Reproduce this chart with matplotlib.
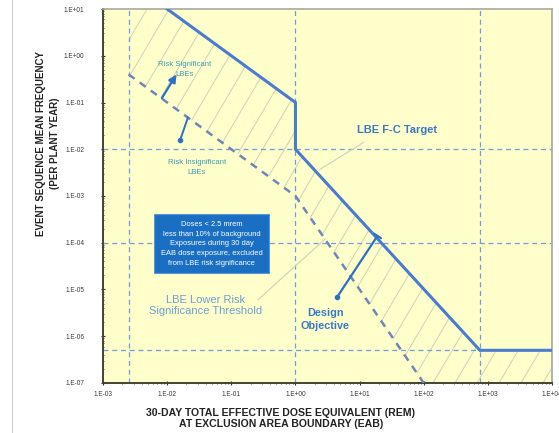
"""
Frequency-consequence target chart for licensing basis events (LBEs).
"""

import numpy as np
import matplotlib.pyplot as plt
from matplotlib.lines import Line2D
from matplotlib.collections import LineCollection
from matplotlib.ticker import LogLocator, FuncFormatter

# =========================================================
# Data
# =========================================================
# LBE F-C target (dose in rem, frequency per plant year)
target_dose = [1e-2, 1.0, 1.0, 750.0, 1e4]
target_freq = [1e1, 1e-1, 1e-2, 5e-7, 5e-7]

# LBE lower risk significance threshold
thresh_dose = [2.5e-3, 1.0, 100.0]
thresh_freq = [4e-1, 1e-3, 1e-7]

# reference grid lines
vlines_dose = [2.5e-3, 1.0, 750.0]
hlines_freq = [1e-2, 1e-4, 5e-7]

# arrows (tail, head)
sig_arrow = [(8.3e-3, 1.25e-1), (1.4e-2, 4.0e-1)]
insig_arrow = [(2.1e-2, 4.7e-2), (1.6e-2, 1.6e-2)]
design_arrow = [(4.5, 7.0e-6), (19.0, 1.4e-4)]

# leader lines
fc_leader = [(11.5, 1.4e-2), (2.4, 3.7e-3)]
lower_leader = [(0.26, 6.0e-6), (2.9, 1.2e-4)]

XLIM = (1e-3, 1e4)
YLIM = (1e-7, 1e1)

# =========================================================
# Style
# =========================================================
BG = "#FFFFCC"
BLUE = "#4a7bd0"
ARROW = "#2f6fc4"
DASH = "#6f86b8"
GRID = "#6f9fd6"
TEAL = "#3f9bb3"
HATCH = "#cfd1b6"

plt.rcParams["font.family"] = ["Liberation Sans", "DejaVu Sans"]

fig = plt.figure(figsize=(5.59, 4.33), dpi=100)
ax = fig.add_axes([0.1843, 0.1155, 0.8032, 0.8637])
ax.set_xscale("log")
ax.set_yscale("log")
ax.set_xlim(*XLIM)
ax.set_ylim(*YLIM)
ax.set_facecolor(BG)

# ----- hatched band between threshold and target -----
poly_x = ([thresh_dose[0]] + target_dose + [XLIM[1], thresh_dose[-1]]
          + thresh_dose[::-1])
poly_y = ([YLIM[1]] + target_freq + [YLIM[0], YLIM[0]]
          + thresh_freq[::-1])
band = ax.fill(poly_x, poly_y, facecolor="none", edgecolor="none",
               linewidth=0, zorder=1)[0]

# steep hatch lines (~60 deg), clipped to the band
run = 0.49      # axes-fraction x shift over full height
step = 0.049
starts = np.arange(-run, 1.0, step)
segs = [[(s, 0.0), (s + run, 1.0)] for s in starts]
hatch = LineCollection(segs, colors=HATCH, linewidths=0.7,
                       transform=ax.transAxes, zorder=1)
ax.add_collection(hatch)
hatch.set_clip_path(band)

# ----- reference dashed lines -----
for xv in vlines_dose:
    ax.axvline(xv, color=GRID, lw=0.9, ls=(0, (4, 3)), zorder=2)
for yv in hlines_freq:
    ax.axhline(yv, color=GRID, lw=0.9, ls=(0, (4, 3)), zorder=2)

# ----- leader lines -----
ax.plot(*zip(*fc_leader), color=HATCH, lw=0.8, zorder=2)
ax.plot(*zip(*lower_leader), color=HATCH, lw=0.8, zorder=2)

# ----- threshold & target -----
ax.plot(thresh_dose, thresh_freq, color=DASH, lw=1.8,
        ls=(0, (3, 2.5)), zorder=3)
ax.plot(target_dose, target_freq, color=BLUE, lw=2.2,
        solid_joinstyle="miter", zorder=4)

# ----- arrows -----
ax.annotate("", xy=sig_arrow[1], xytext=sig_arrow[0],
            arrowprops=dict(arrowstyle="-|>,head_length=0.45,head_width=0.22",
                            color=ARROW, lw=1.6, shrinkA=0, shrinkB=0),
            zorder=5)
ax.plot(*zip(*insig_arrow), color=ARROW, lw=1.4, zorder=5)
ax.plot(*insig_arrow[1], "o", color=ARROW, ms=3, zorder=5)
ax.annotate("", xy=design_arrow[1], xytext=design_arrow[0],
            arrowprops=dict(arrowstyle="|-|,widthA=0,widthB=0.3",
                            color=ARROW, lw=1.6, shrinkA=0, shrinkB=0),
            zorder=5)
ax.plot(*design_arrow[0], "o", color=ARROW, ms=3, zorder=5)

# ----- text -----
ax.text(1.9e-2, 5.0e-1, "Risk Significant\nLBEs", color=TEAL,
        fontsize=5.6, ha="center", va="center", linespacing=1.6)
ax.text(2.9e-2, 4.0e-3, "Risk Insignificant\nLBEs", color=TEAL,
        fontsize=5.6, ha="center", va="center", linespacing=1.6)

ax.text(4.9e-2, 9.5e-5,
        "Doses < 2.5 mrem\nless than 10% of background\n"
        "Exposures during 30 day\nEAB dose exposure, excluded\n"
        "from LBE risk significance",
        color="white", fontsize=5.4, ha="center", va="center",
        linespacing=1.55,
        bbox=dict(boxstyle="square,pad=0.85", fc="#1b6fc2",
                  ec="#5b95d8", lw=0.8), zorder=6)

ax.text(3.9e-2, 4.6e-6, "LBE Lower Risk\nSignificance Threshold",
        color="#6f9fcc", fontsize=8, ha="center", va="center",
        linespacing=1.15, zorder=6)

ax.text(38.0, 2.6e-2, "LBE F-C Target", color="#3a78c4",
        fontsize=8, fontweight="bold", ha="center", va="center",
        zorder=6)

ax.text(2.9, 2.3e-6, "Design\nObjective", color="#3a78c4",
        fontsize=7.8, fontweight="bold", ha="center", va="center",
        linespacing=1.3, zorder=6)

# ----- axes styling -----
ax.xaxis.set_major_locator(LogLocator(base=10, numticks=20))
ax.yaxis.set_major_locator(LogLocator(base=10, numticks=20))
ax.xaxis.set_minor_locator(LogLocator(base=10, subs=np.arange(2, 10),
                                      numticks=20))
ax.yaxis.set_minor_locator(LogLocator(base=10, subs=np.arange(2, 10),
                                      numticks=20))


def sci_fmt(v, pos):
    e = int(round(np.log10(v)))
    return f"1.E{'+' if e >= 0 else '-'}{abs(e):02d}"


ax.xaxis.set_major_formatter(FuncFormatter(sci_fmt))
ax.yaxis.set_major_formatter(FuncFormatter(sci_fmt))
ax.tick_params(axis="both", which="major", labelsize=4.7,
               labelcolor="#3a3a3a", direction="inout", length=3,
               width=0.8, color="#333333")
ax.tick_params(axis="both", which="minor", direction="inout", length=2,
               width=0.6, color="#333333")
ax.tick_params(axis="y", which="major", pad=12)
ax.tick_params(axis="x", which="major", pad=4)
ax.tick_params(top=False, right=False, which="both")

for side in ("top", "right"):
    ax.spines[side].set_color("#a8a8a0")
    ax.spines[side].set_linewidth(1.2)
for side in ("left", "bottom"):
    ax.spines[side].set_color("#444433")
    ax.spines[side].set_linewidth(1.4)

ax.set_xlabel("30-DAY TOTAL EFFECTIVE DOSE EQUIVALENT (REM)\n"
              "AT EXCLUSION AREA BOUNDARY (EAB)",
              fontsize=7.6, fontweight="bold", color="#222222",
              linespacing=1.15)
ax.xaxis.set_label_coords(0.396, -0.066)
ax.set_ylabel("EVENT SEQUENCE MEAN FREQUENCY\n(PER PLANT YEAR)",
              fontsize=7, fontweight="bold", color="#222222",
              linespacing=1.45)
ax.yaxis.set_label_coords(-0.096, 0.64)

# thin grey frame line at left of the figure
fig.add_artist(Line2D([12 / 559, 12 / 559], [0, 1], color="#cccccc",
                      lw=0.8))

fig.savefig("out.png", dpi=100)
